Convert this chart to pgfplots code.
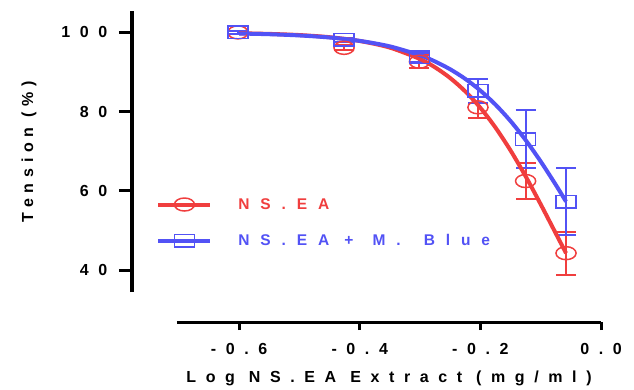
\documentclass[border=0pt]{standalone}
\usepackage{pgfplots}
\pgfplotsset{compat=1.18}
\usepackage{fontspec}
\setmainfont{Liberation Sans}
\newfontfamily\xlabfont{Liberation Sans}[LetterSpace=60]
\newfontfamily\ylabfont{Liberation Sans}[LetterSpace=36]
\newfontfamily\tickfont{Liberation Sans}[LetterSpace=60]
\newfontfamily\legfont{Liberation Sans}[LetterSpace=70]
\definecolor{cred}{RGB}{240,62,62}
\definecolor{cblue}{RGB}{82,82,245}
\begin{document}
\begin{tikzpicture}
\path[use as bounding box] (-177pt,-97pt) rectangle (457pt,292pt);
\begin{axis}[
 scale only axis, width=424pt, height=281pt,
 xmin=-0.703, xmax=0, ymin=34.5, ymax=105.4,
 axis x line=bottom, axis y line=left,
 axis x line shift=30pt, axis y line shift=45pt,
 x axis line style={-, line width=3pt},
 y axis line style={-, line width=4.5pt},
 xtick={-0.6,-0.4,-0.2,0}, xticklabels={-0.6,-0.4,-0.2,0.0},
 ytick={40,60,80,100}, yticklabels={40,60,80,100},
 tick align=outside,
 x tick style={black, line width=3pt, /pgfplots/major tick length=8pt},
 y tick style={black, line width=3pt, /pgfplots/major tick length=13pt},
 tick label style={font=\tickfont\bfseries\fontsize{16}{19}\selectfont},
 xticklabel style={yshift=-14pt},
 yticklabel style={xshift=-17pt},
 xlabel={Log NS.EA Extract (mg/ml)},
 ylabel={Tension (\%)},
 xlabel style={font=\xlabfont\bfseries\fontsize{16}{19}\selectfont, at={(axis description cs:0.5,-0.306)}, anchor=center},
 ylabel style={font=\ylabfont\bfseries\fontsize{16}{19}\selectfont, at={(axis description cs:-0.349,0.5)}, anchor=center},
 clip=false,
 legend cell align=left,
 legend style={draw=none, fill=none, at={(axis description cs:-0.056,0.345)}, anchor=north west,
   font=\legfont\bfseries\fontsize{15.5}{18}\selectfont, row sep=22pt, column sep=26pt,
   nodes={inner sep=0pt}},
]
\addlegendimage{cred, legend image code/.code={%
    \draw[cred, line width=4pt] (0pt,0pt) -- (52pt,0pt);
    \draw[cred, line width=1.5pt] (26pt,0pt) ellipse [x radius=10pt, y radius=6.5pt];}}
\addlegendentry{\textcolor{cred}{NS.EA}}
\addlegendimage{cblue, legend image code/.code={%
    \draw[cblue, line width=4pt] (0pt,0pt) -- (52pt,0pt);
    \draw[cblue, line width=1.5pt] (16pt,-6.3pt) rectangle (36pt,6.3pt);}}
\addlegendentry{\textcolor{cblue}{NS.EA +\hspace{4pt} M.\hspace{8pt} Blue}}
% NS.EA data with error bars
\addplot[cred, only marks, mark=o, mark size=6.5pt, mark options={xscale=1.55, line width=1.5pt},
  error bars/.cd, y dir=both, y explicit, error bar style={line width=2pt, cred},
  error mark options={rotate=90, mark size=10pt, line width=2pt, cred}]
  coordinates {(-0.602,100) +- (0,0.3) (-0.426,96.1) +- (0,0.6) (-0.301,92.6) +- (0,1.6)
   (-0.204,81.1) +- (0,2.6) (-0.125,62.5) +- (0,4.5) (-0.058,44.3) +- (0,5.4)};
% NS.EA + M. Blue data with error bars
\addplot[cblue, only marks, mark=square, mark size=6.3pt, mark options={xscale=1.6, line width=1.5pt},
  error bars/.cd, y dir=both, y explicit, error bar style={line width=2pt, cblue},
  error mark options={rotate=90, mark size=10pt, line width=2pt, cblue}]
  coordinates {(-0.602,100) +- (0,0.3) (-0.426,98.1) +- (0,0.6) (-0.301,93.7) +- (0,1.2)
   (-0.204,85.3) +- (0,3.0) (-0.125,73.0) +- (0,7.3) (-0.058,57.3) +- (0,8.5)};
% fitted curves
\addplot[cred, line width=4pt, smooth]
  coordinates {(-0.6,99.79) (-0.55,99.62) (-0.5,99.33) (-0.45,98.79) (-0.4,97.83) (-0.35,96.16)
   (-0.3,93.27) (-0.275,91.17) (-0.25,88.48) (-0.225,85.11) (-0.2,80.97) (-0.175,76.00)
   (-0.15,70.21) (-0.125,63.70) (-0.1,56.63) (-0.075,49.29) (-0.058,44.30)};
\addplot[cblue, line width=4pt, smooth]
  coordinates {(-0.6,99.72) (-0.55,99.54) (-0.5,99.23) (-0.45,98.71) (-0.4,97.86) (-0.35,96.47)
   (-0.3,94.22) (-0.275,92.65) (-0.25,90.69) (-0.225,88.27) (-0.2,85.32) (-0.175,81.78)
   (-0.15,77.63) (-0.125,72.84) (-0.1,67.44) (-0.075,61.55) (-0.058,57.32)};
\end{axis}
\end{tikzpicture}
\end{document}
